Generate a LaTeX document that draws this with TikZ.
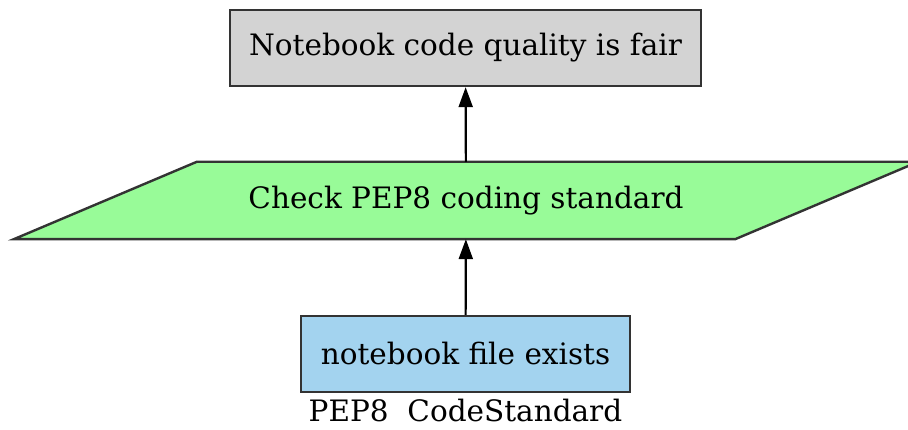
\documentclass[tikz,border=0pt]{standalone}
\usepackage{fontspec}
\setmainfont{DejaVu Serif}
\usetikzlibrary{arrows.meta,positioning,backgrounds}
\definecolor{GoalGray}{HTML}{D3D3D3}
\definecolor{CheckGreen}{HTML}{98FB98}
\definecolor{FileBlue}{HTML}{A3D3EF}
\definecolor{EdgeGray}{HTML}{333333}

\begin{document}
\begin{tikzpicture}[x=1pt,y=1pt,
  every node/.style={font=\fontsize{29.5}{34}\selectfont},
  statebox/.style={draw=EdgeGray,line width=2.4pt,minimum height=76pt,inner sep=0pt},
  flow/.style={-{Triangle[length=20pt,width=14pt]},line width=2.2pt}]
  \useasboundingbox (0,0) rectangle (908,430);
  \node[statebox,fill=GoalGray,minimum width=471pt] (goal) at (465.5,382) {Notebook code quality is fair};
  \node[minimum width=538pt,minimum height=77pt,inner sep=0pt] (check) at (466,229.5) {Check PEP8 coding standard};
  \node[statebox,fill=FileBlue,minimum width=329pt] (file) at (465.5,76) {notebook file exists};
  \node[below=6pt of file,inner sep=0pt] (tag) {PEP8\ \ CodeStandard};
  \begin{scope}[on background layer]
    \filldraw[fill=CheckGreen,draw=EdgeGray,line width=2.4pt]
      ([xshift=-183pt]check.south west) -- (check.south east)
      -- ([xshift=183pt]check.north east) -- (check.north west) -- cycle;
  \end{scope}
  \draw[flow] (file) -- (check);
  \draw[flow] (check) -- (goal);
\end{tikzpicture}
\end{document}
